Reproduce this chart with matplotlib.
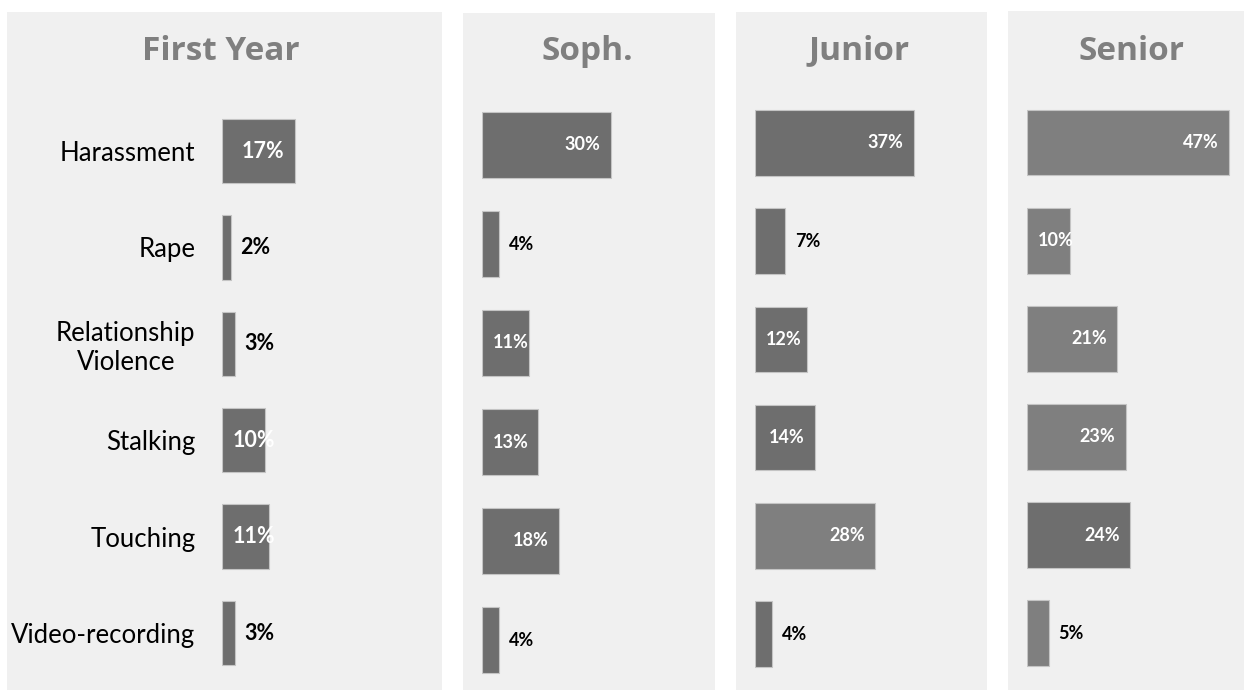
import numpy as np
import matplotlib.pyplot as plt

plt.rcParams['font.family'] = ['Lato', 'DejaVu Sans']

# share of respondents reporting each type of incident, by class year
categories = ['Harassment', 'Rape', 'Relationship\nViolence', 'Stalking',
              'Touching', 'Video-recording']
years = ['First Year', 'Soph.', 'Junior', 'Senior']
first_year = [17, 2, 3, 10, 11, 3]
sophomore = [30, 4, 11, 13, 18, 4]
junior = [37, 7, 12, 14, 28, 4]
senior = [47, 10, 21, 23, 24, 5]
values = [first_year, sophomore, junior, senior]

# bar shades: 'd' darker gray, 'l' lighter gray
shades = [
    ['d', 'd', 'd', 'd', 'd', 'd'],
    ['d', 'd', 'd', 'd', 'd', 'd'],
    ['d', 'd', 'd', 'd', 'l', 'd'],
    ['l', 'l', 'l', 'l', 'd', 'l'],
]
shade_color = {'d': '#6e6e6e', 'l': '#7f7f7f'}

W, H = 1244, 690
fig = plt.figure(figsize=(W / 100, H / 100), dpi=100)
fig.patch.set_facecolor('white')

# panel layout in pixels
panel_x = [(7, 442), (463, 715), (736, 987), (1008, 1244)]
panel_top = [12, 13, 12, 11]
bar_x0 = [222, 482, 755, 1027]
row_span = [(151, 633), (145, 640), (143, 634), (142.5, 633.3)]
title_x = [221, 587, 859, 1132]
px_per_pct = 4.3


def add_px_axes(x0, y0, x1, y1):
    return fig.add_axes([x0 / W, 1 - y1 / H, (x1 - x0) / W, (y1 - y0) / H])


for p in range(4):
    bg = add_px_axes(panel_x[p][0], panel_top[p], panel_x[p][1], H)
    bg.set_facecolor('#f0f0f0')
    bg.set_xticks([])
    bg.set_yticks([])
    for s in bg.spines.values():
        s.set_visible(False)

    fig.text(title_x[p] / W, 1 - 51 / H, years[p], ha='center', va='center',
             fontsize=24, fontweight='bold', color='#7f7f7f',
             family=['Open Sans', 'DejaVu Sans'])

    first, last = row_span[p]
    step = (last - first) / 5
    ax = add_px_axes(bar_x0[p], first - step / 2, panel_x[p][1], last + step / 2)
    ax.patch.set_alpha(0)
    ax.set_xlim(0, (panel_x[p][1] - bar_x0[p]) / px_per_pct)
    ax.set_ylim(5.5, -0.5)
    y = np.arange(len(categories))
    cols = [shade_color[s] for s in shades[p]]
    ax.barh(y, values[p], height=0.67, color=cols, edgecolor='#c4c4c4',
            linewidth=0.8)

    # small bars get the label outside, mid bars at the base, wide bars at the end
    fs = 15.5 if p == 0 else 13
    for i, v in enumerate(values[p]):
        if v < 10:
            ax.annotate(f'{v}%', (v, i), xytext=(7, 0), textcoords='offset points',
                        ha='left', va='center', fontsize=fs, fontweight='bold',
                        color='black')
        elif v < 14:
            ax.annotate(f'{v}%', (0, i), xytext=(7.5, 0), textcoords='offset points',
                        ha='left', va='center', fontsize=fs, fontweight='bold',
                        color='white')
        else:
            ax.annotate(f'{v}%', (v, i), xytext=(-7.5, 0), textcoords='offset points',
                        ha='right', va='center', fontsize=fs, fontweight='bold',
                        color='white')

    for s in ax.spines.values():
        s.set_visible(False)
    ax.set_xticks([])
    if p == 0:
        ax.set_yticks(y)
        ax.set_yticklabels(categories, fontsize=18.5, color='black',
                           multialignment='center')
        ax.tick_params(axis='y', length=0, pad=19)
    else:
        ax.set_yticks([])

fig.savefig('out.png', dpi=100)
